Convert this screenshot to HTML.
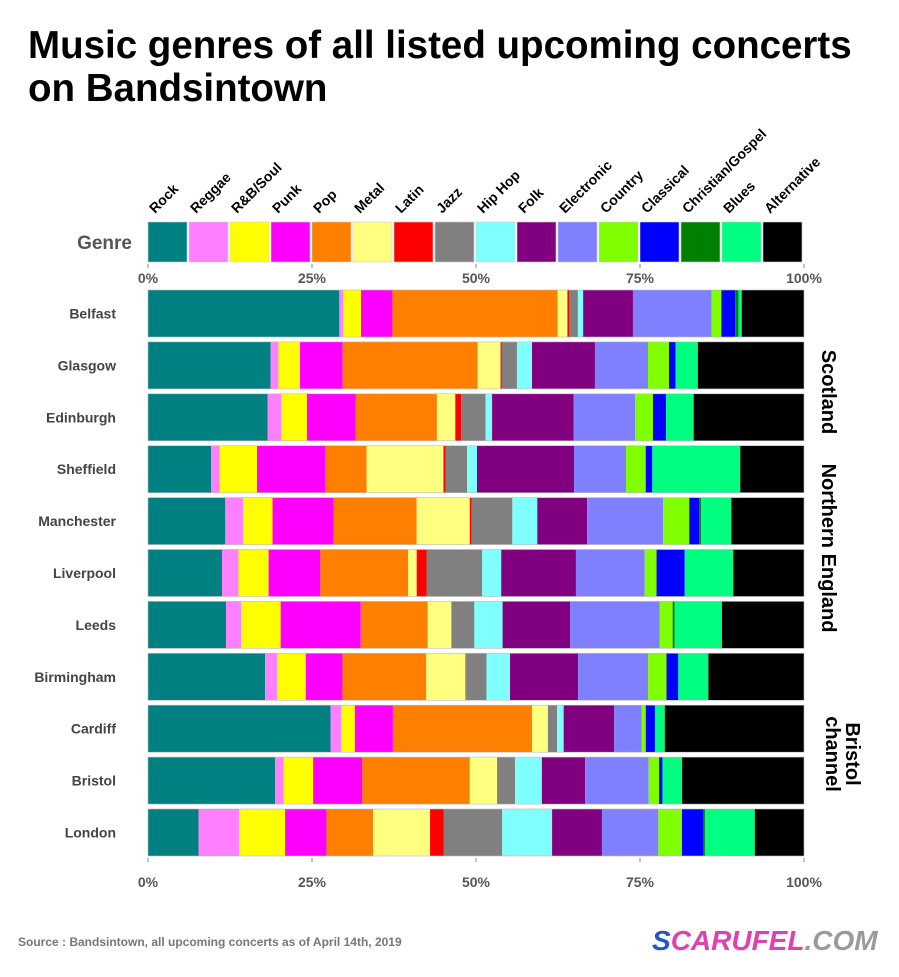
<!DOCTYPE html>
<html><head><meta charset="utf-8">
<style>
body{margin:0;background:#fff;font-family:"Liberation Sans",Arial,sans-serif;}
#wrap{position:relative;width:899px;height:977px;overflow:hidden;background:#fff;}
</style></head>
<body>
<div id="wrap">
<svg id="chart" width="899" height="977" xmlns="http://www.w3.org/2000/svg">
<text x="28" y="58" font-size="38.5" font-weight="bold" fill="#000">Music genres of all listed upcoming concerts</text>
<text x="28" y="101" font-size="38.5" font-weight="bold" fill="#000">on Bandsintown</text>
<text x="132" y="249" font-size="19" font-weight="bold" fill="#555" text-anchor="end">Genre</text>
<g id="legend"></g>
<g id="axes"></g>
<g id="bars"></g>
<text transform="translate(822,392) rotate(90)" font-size="20" font-weight="bold" text-anchor="middle" fill="#000">Scotland</text>
<text transform="translate(822,548) rotate(90)" font-size="20" font-weight="bold" text-anchor="middle" fill="#000">Northern England</text>
<text transform="translate(836,754) rotate(90)" font-size="20" font-weight="bold" text-anchor="middle" fill="#000"><tspan x="0" dy="-10">Bristol</tspan><tspan x="0" dy="20">channel</tspan></text>
<text x="18" y="946" font-size="12" font-weight="bold" fill="#777">Source : Bandsintown, all upcoming concerts as of April 14th, 2019</text>
<text x="652" y="950" font-size="28" font-weight="bold" font-style="italic" letter-spacing="0"><tspan fill="#2255cc">S</tspan><tspan fill="#e040b0">CARUFEL</tspan><tspan fill="#9a9a9a">.COM</tspan></text>
</svg>
</div>
<script>
const genres=["Rock","Reggae","R&B/Soul","Punk","Pop","Metal","Latin","Jazz","Hip Hop","Folk","Electronic","Country","Classical","Christian/Gospel","Blues","Alternative"];
const colors=["#008080","#ff80ff","#ffff00","#ff00ff","#ff8000","#ffff80","#ff0000","#808080","#80ffff","#800080","#8080ff","#80ff00","#0000ff","#008000","#00ff80","#000000"];
const cities=["Belfast","Glasgow","Edinburgh","Sheffield","Manchester","Liverpool","Leeds","Birmingham","Cardiff","Bristol","London"];
const belfast=[29.2,0.6,2.7,4.8,25.2,1.5,0.3,1.3,0.8,7.6,12.0,1.5,2.1,0.5,0.5,9.5];
const glasgow=[18.7,1.2,3.3,6.5,20.6,3.5,0.2,2.3,2.3,9.6,8.1,3.2,1.0,0,3.4,16.2];
const edinburgh=[18.2,2.1,3.9,7.4,12.4,2.8,0.9,3.7,1.0,12.4,9.4,2.7,2.0,0,4.2,16.8];
const sheffield=[9.6,1.3,5.7,10.4,6.3,11.7,0.3,3.3,1.5,14.8,7.9,3.0,1.0,0,13.4,9.7];
const manchester=[11.8,2.7,4.5,9.3,12.7,8.1,0.3,6.2,3.8,7.6,11.6,4.0,1.5,0.3,4.6,11.1];
const liverpool=[11.3,2.5,4.6,7.9,13.4,1.3,1.5,8.5,2.9,11.4,10.5,1.8,4.3,0,7.4,10.8];
const leeds=[11.9,2.3,6.0,12.2,10.2,3.6,0,3.5,4.3,10.3,13.6,2.0,0,0.3,7.2,12.5];
const birmingham=[17.9,1.8,4.4,5.6,12.8,6.0,0.1,3.1,3.6,10.4,10.7,2.8,1.8,0,4.6,14.6];
const cardiff=[27.8,1.6,2.1,5.8,21.2,2.4,0,1.4,1.0,7.7,4.2,0.6,1.4,0,1.5,21.2];
const bristol=[19.4,1.3,4.5,7.5,16.4,4.2,0.1,2.6,4.1,6.6,9.7,1.6,0.5,0,3.0,18.6];
const london=[7.7,6.2,7.0,6.3,7.1,8.7,2.1,8.9,7.6,7.6,8.6,3.6,3.2,0.3,7.6,7.5];
const series=[belfast,glasgow,edinburgh,sheffield,manchester,liverpool,leeds,birmingham,cardiff,bristol,london];
const tickVals=[0,25,50,75,100];
const tickLabels=["0%","25%","50%","75%","100%"];

const NS="http://www.w3.org/2000/svg";
const X0=148,X1=804,rowTop=290,rowPitch=51.9,rowH=47;
function xs(p){return X0+(X1-X0)*p/100;}
function ys(i){return rowTop+i*rowPitch;}
function mk(tag,attrs,parent){const e=document.createElementNS(NS,tag);for(const k in attrs)e.setAttribute(k,attrs[k]);parent.appendChild(e);return e;}
const legend=document.getElementById('legend'),axes=document.getElementById('axes'),bars=document.getElementById('bars');

genres.forEach((g,i)=>{
  const bx=X0+i*41;
  const r=mk('rect',{x:bx,y:222,width:39,height:40,fill:colors[i],stroke:'#ccc','stroke-width':0.6},legend);
  
  
  const t=mk('text',{transform:`translate(${bx+7},${214}) rotate(-45)`,'font-size':14,'font-weight':'bold',fill:'#000'},legend);
  t.textContent=g;
  
  
});

tickVals.forEach((v,i)=>{
  [0,1].forEach(j=>{
    const tk=mk('line',{x1:xs(v),x2:xs(v),y1:j?858:264,y2:j?862:268,stroke:'#888'},axes);
    
    
    const t=mk('text',{x:xs(v),y:j?887:283,'font-size':14,'font-weight':'bold',fill:'#555','text-anchor':'middle'},axes);
    t.textContent=tickLabels[i];
    
    
  });
});

series.forEach((vals,ri)=>{
  const y=ys(ri);
  const lab=mk('text',{x:116,y:y+rowH/2+5,'font-size':14,'font-weight':'bold',fill:'#444','text-anchor':'end'},bars);
  lab.textContent=cities[ri];
  
  
  const tot=vals.reduce((a,b)=>a+b,0);
  let cum=0;
  vals.forEach((v,gi)=>{
    if(v<=0)return;
    const a=cum/tot*100,b=(cum+v)/tot*100;cum+=v;
    const r=mk('rect',{x:xs(a),y:y,width:Math.max(xs(b)-xs(a),0.5),height:rowH,fill:colors[gi]},bars);
    
    
  });
  const o=mk('rect',{x:X0,y:y,width:X1-X0,height:rowH,fill:'none',stroke:'#bbb','stroke-width':0.6},bars);
  
  
});
</script>
</body></html>
